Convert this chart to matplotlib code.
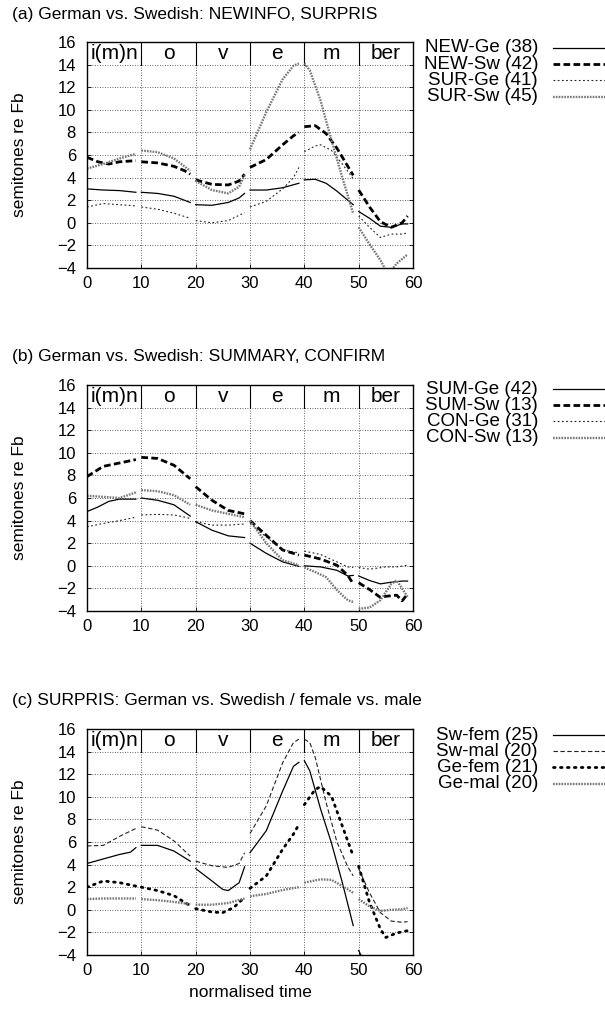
import matplotlib
matplotlib.use('Agg')
import matplotlib.pyplot as plt
from matplotlib.lines import Line2D
import numpy as np

plt.rcParams['font.family'] = ['Liberation Sans', 'DejaVu Sans']

# ---------------- data ----------------
boundaries = [0, 10, 20, 30, 40, 50, 60]
segment_labels = ['i(m)n', 'o', 'v', 'e', 'm', 'ber']
y_ticks = [-4, -2, 0, 2, 4, 6, 8, 10, 12, 14, 16]
x_ticks = [0, 10, 20, 30, 40, 50, 60]

titles = ['(a) German vs. Swedish: NEWINFO, SURPRIS',
          '(b) German vs. Swedish: SUMMARY, CONFIRM',
          '(c) SURPRIS: German vs. Swedish / female vs. male']

legend_a = ['NEW-Ge (38)', 'NEW-Sw (42)', 'SUR-Ge (41)', 'SUR-Sw (45)']
legend_b = ['SUM-Ge (42)', 'SUM-Sw (13)', 'CON-Ge (31)', 'CON-Sw (13)']
legend_c = ['Sw-fem (25)', 'Sw-mal (20)', 'Ge-fem (21)', 'Ge-mal (20)']

# panel (a)
NEW_GE = [[(0, 3.0), (3, 2.9), (6, 2.85), (9, 2.7)],
          [(10, 2.7), (13, 2.6), (16, 2.35), (19, 1.8)],
          [(20, 1.6), (23, 1.55), (26, 1.8), (28, 2.2), (29, 2.6)],
          [(30, 2.9), (33, 2.9), (36, 3.1), (39, 3.5)],
          [(40, 3.8), (42, 3.85), (44, 3.5), (46, 2.8), (48, 2.0), (49, 1.6)],
          [(50, 1.0), (52, 0.4), (54, -0.3), (56, -0.4), (58, -0.1), (59, -0.1)]]
NEW_SW = [[(0, 5.8), (2, 5.4), (4, 5.2), (6, 5.4), (9, 5.5)],
          [(10, 5.4), (13, 5.3), (16, 5.0), (18, 4.6), (19, 4.3)],
          [(20, 3.8), (23, 3.4), (26, 3.35), (28, 3.7), (29, 4.3)],
          [(30, 4.9), (33, 5.6), (36, 6.9), (38, 7.7), (39, 8.0)],
          [(40, 8.5), (42, 8.6), (44, 7.9), (46, 6.6), (48, 5.0), (49, 4.2)],
          [(50, 2.9), (52, 1.4), (54, 0.1), (56, -0.4), (58, 0.0), (59, 0.6)]]
SUR_GE = [[(0, 1.4), (3, 1.7), (6, 1.6), (9, 1.5)],
          [(10, 1.4), (13, 1.2), (16, 0.85), (19, 0.4)],
          [(20, 0.2), (23, 0.0), (26, 0.2), (29, 0.9)],
          [(30, 1.4), (33, 1.9), (36, 3.0), (38, 4.0), (39, 4.9)],
          [(40, 6.3), (42, 6.8), (43, 6.9), (45, 6.4), (47, 5.2), (49, 3.9)],
          [(50, 0.6), (52, -0.4), (54, -1.3), (56, -1.0), (58, -1.0), (59, -0.9)]]
SUR_SW = [[(0, 4.8), (3, 5.2), (6, 5.7), (9, 6.1)],
          [(10, 6.4), (13, 6.25), (16, 5.7), (19, 4.6)],
          [(20, 3.7), (23, 2.9), (26, 2.6), (28, 3.2), (29, 4.2)],
          [(30, 6.5), (33, 9.8), (36, 12.7), (38, 13.9), (39, 14.1)],
          [(40, 14.1), (41, 13.5), (43, 10.8), (45, 7.3), (47, 4.0), (49, 0.8)],
          [(50, -0.4), (52, -1.9), (54, -3.3), (55, -4.2), (56, -4.2), (57, -3.6), (59, -2.8)]]

# panel (b)
SUM_GE = [[(0, 4.8), (2, 5.2), (4, 5.7), (6, 5.9), (9, 5.9)],
          [(10, 6.0), (13, 5.8), (16, 5.4), (19, 4.4)],
          [(20, 3.9), (23, 3.15), (26, 2.65), (29, 2.5)],
          [(30, 2.0), (33, 1.1), (36, 0.35), (39, -0.05)],
          [(40, 0.0), (43, -0.1), (46, -0.4), (48, -0.9), (49, -0.85)],
          [(50, -0.9), (52, -1.3), (54, -1.6), (56, -1.45), (58, -1.35), (59, -1.35)]]
SUM_SW = [[(0, 7.9), (3, 8.8), (6, 9.1), (9, 9.4)],
          [(10, 9.6), (13, 9.5), (16, 8.9), (19, 7.7)],
          [(20, 7.0), (23, 5.8), (26, 4.9), (29, 4.6)],
          [(30, 4.0), (33, 2.7), (36, 1.4), (39, 0.95)],
          [(40, 0.95), (43, 0.6), (46, 0.05), (48, -0.85), (49, -1.6)],
          [(50, -1.5), (52, -2.1), (54, -2.8), (55, -2.7), (57, -2.6), (58, -3.1), (59, -2.5)]]
CON_GE = [[(0, 3.45), (3, 3.75), (6, 4.0), (9, 4.3)],
          [(10, 4.5), (13, 4.55), (16, 4.5), (19, 4.2)],
          [(20, 3.9), (23, 3.6), (26, 3.6), (29, 3.7)],
          [(30, 3.75), (33, 2.55), (36, 1.4), (39, 1.15)],
          [(40, 1.3), (43, 1.0), (46, 0.35), (48, -0.1), (49, -0.15)],
          [(50, -0.15), (52, -0.3), (55, -0.1), (57, -0.1), (59, 0.05)]]
CON_SW = [[(0, 6.2), (3, 6.1), (6, 6.0), (9, 6.5)],
          [(10, 6.7), (13, 6.6), (16, 6.25), (19, 5.4)],
          [(20, 5.4), (23, 4.9), (26, 4.6), (29, 4.3)],
          [(30, 4.0), (33, 2.0), (36, 0.5), (39, 0.05)],
          [(40, -0.15), (42, -0.55), (44, -1.0), (46, -2.15), (48, -3.05), (49, -3.2)],
          [(50, -3.8), (52, -3.7), (54, -3.05), (56, -1.6), (57, -1.3), (58, -2.0), (59, -2.75)]]

# panel (c)
SW_FEM = [[(0, 4.1), (3, 4.5), (6, 4.9), (8, 5.1), (9, 5.5)],
          [(10, 5.7), (13, 5.7), (16, 5.2), (19, 4.3)],
          [(20, 3.65), (23, 2.55), (25, 1.8), (26, 1.7), (28, 2.4), (29, 3.8)],
          [(30, 5.05), (33, 7.0), (36, 10.5), (38, 12.7), (39, 13.05)],
          [(40, 13.2), (41, 12.3), (43, 8.9), (45, 5.9), (47, 2.4), (49, -1.4)],
          [(50, -3.6), (51, -4.6)]]
SW_MAL = [[(0, 5.65), (3, 5.7), (6, 6.5), (9, 7.2)],
          [(10, 7.35), (13, 7.05), (16, 6.1), (19, 4.75)],
          [(20, 4.3), (23, 3.9), (26, 3.75), (28, 4.1), (29, 5.05)],
          [(30, 6.75), (33, 9.2), (36, 13.0), (38, 14.8), (39, 15.1)],
          [(40, 15.1), (41, 14.8), (42, 13.5), (44, 9.5), (46, 6.0), (48, 3.8), (49, 3.0)],
          [(50, 3.65), (52, 1.5), (54, -0.25), (56, -1.0), (58, -1.1), (59, -1.05)]]
GE_FEM = [[(0, 2.0), (3, 2.55), (6, 2.4), (9, 2.1)],
          [(10, 2.0), (13, 1.7), (16, 1.25), (19, 0.35)],
          [(20, 0.1), (23, -0.2), (25, -0.25), (27, 0.2), (29, 1.1)],
          [(30, 1.9), (33, 3.0), (36, 5.35), (38, 6.7), (39, 7.55)],
          [(40, 9.3), (42, 10.65), (43, 10.9), (45, 10.05), (47, 7.4), (49, 4.75)],
          [(50, 3.85), (52, 0.65), (54, -1.7), (55, -2.45), (57, -2.05), (59, -1.85)]]
GE_MAL = [[(0, 0.95), (3, 1.0), (6, 1.0), (9, 1.0)],
          [(10, 0.95), (13, 0.85), (16, 0.7), (19, 0.5)],
          [(20, 0.45), (23, 0.45), (26, 0.6), (29, 1.0)],
          [(30, 1.2), (33, 1.4), (36, 1.75), (39, 2.0)],
          [(40, 2.4), (43, 2.7), (45, 2.65), (47, 2.1), (49, 1.5)],
          [(50, 0.95), (52, 0.3), (54, -0.1), (56, 0.0), (58, 0.05), (59, 0.15)]]

# ---------------- styles ----------------
ST_SOLID = dict(color='black', lw=0.9, linestyle='-')
ST_THICKDASH = dict(color='black', lw=2.0, dashes=(2.4, 1.2))
ST_FINEDOT = dict(color='#222222', lw=0.8, dashes=(1.6, 2.2))
ST_GREY = dict(color='#777777', lw=1.7, dashes=(0.7, 0.5))
ST_THINDASH = dict(color='#222222', lw=0.8, dashes=(4.0, 2.2))
ST_BIGDOT = dict(color='black', lw=2.0, dashes=(0.6, 1.9), dash_capstyle='round')

panels = [
    ([NEW_GE, NEW_SW, SUR_GE, SUR_SW], legend_a, [ST_SOLID, ST_THICKDASH, ST_FINEDOT, ST_GREY]),
    ([SUM_GE, SUM_SW, CON_GE, CON_SW], legend_b, [ST_SOLID, ST_THICKDASH, ST_FINEDOT, ST_GREY]),
    ([SW_FEM, SW_MAL, GE_FEM, GE_MAL], legend_c, [ST_SOLID, ST_THINDASH, ST_BIGDOT, ST_GREY]),
]

W, H = 605, 1017
fig = plt.figure(figsize=(W / 100, H / 100), dpi=100)

ax_left, ax_right = 87, 413
ax_tops = [42, 385, 729]
ax_h = 226
title_y = [15, 357, 700]
legend_y0 = [48, 389, 735]
legend_dy = 16.2
FS = 12.5
TICK_FS = 12

for i, (series, labels, styles) in enumerate(panels):
    top = ax_tops[i]
    ax = fig.add_axes([ax_left / W, 1 - (top + ax_h) / H, (ax_right - ax_left) / W, ax_h / H])
    ax.set_xlim(0, 60)
    ax.set_ylim(-4, 16)
    ax.set_xticks(x_ticks)
    ax.set_yticks(y_ticks)
    ax.tick_params(labelsize=TICK_FS, direction='in', length=3, width=0.6,
                   top=True, right=True)
    ax.tick_params(axis='x', pad=6)
    ax.tick_params(axis='y', pad=8)
    ax.grid(True, color='#333333', lw=0.6, dashes=(1, 2))
    for sp in ax.spines.values():
        sp.set_linewidth(1.0)
    # syllable band
    for b in boundaries[1:-1]:
        ax.plot([b, b], [14, 16], color='black', lw=0.8)
    for k, lab in enumerate(segment_labels):
        ax.text((boundaries[k] + boundaries[k + 1]) / 2, 15.0, lab,
                ha='center', va='center', fontsize=15)
    ax.set_ylabel('semitones re Fb', fontsize=FS)
    ax.yaxis.set_label_coords((27 - ax_left) / (ax_right - ax_left), 0.5)
    for ser, st in zip(series, styles):
        for seg in ser:
            xs = [p[0] for p in seg]
            ys = [p[1] for p in seg]
            ax.plot(xs, ys, **st)
    fig.text(12 / W, 1 - title_y[i] / H, titles[i], ha='left', va='center', fontsize=FS)
    for j, (lab, st) in enumerate(zip(labels, styles)):
        yy = 1 - (legend_y0[i] + j * legend_dy) / H
        fig.text(538 / W, yy, lab, ha='right', va='center', fontsize=13.5)
        fig.add_artist(Line2D([553 / W, 1.02], [yy, yy], transform=fig.transFigure, **st))
    if i == 2:
        ax.set_xlabel('normalised time', fontsize=FS, labelpad=5)

fig.savefig('out.png', dpi=100)
